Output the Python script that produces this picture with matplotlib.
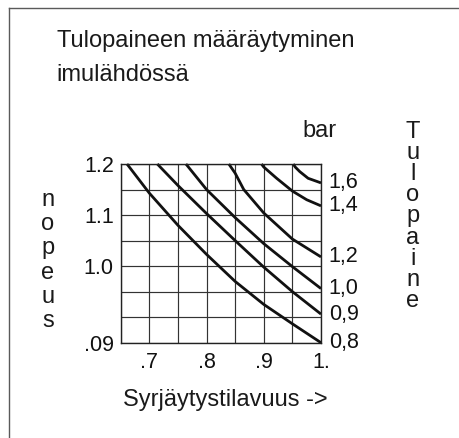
import numpy as np
import matplotlib.pyplot as plt
from matplotlib.lines import Line2D

plt.rcParams['font.family'] = ['Liberation Sans', 'DejaVu Sans']

W, H = 459, 438

# Curves of inlet pressure (bar)
# x = displacement (Syrjaytystilavuus), y = speed (nopeus)
pressures = ['0,8', '0,9', '1,0', '1,2', '1,4', '1,6']

x_08 = [0.661, 0.70, 0.75, 0.80, 0.85, 0.90, 0.95, 1.0]
y_08 = [1.200, 1.143, 1.080, 1.023, 0.970, 0.925, 0.887, 0.850]

x_09 = [0.714, 0.75, 0.80, 0.85, 0.90, 0.95, 1.0]
y_09 = [1.200, 1.158, 1.103, 1.050, 0.998, 0.950, 0.906]

x_10 = [0.764, 0.80, 0.85, 0.90, 0.95, 1.0]
y_10 = [1.200, 1.150, 1.095, 1.044, 0.999, 0.956]

x_12 = [0.839, 0.85, 0.865, 0.90, 0.95, 1.0]
y_12 = [1.200, 1.182, 1.150, 1.104, 1.053, 1.018]

x_14 = [0.896, 0.90, 0.9225, 0.95, 0.975, 1.0]
y_14 = [1.200, 1.194, 1.172, 1.147, 1.130, 1.118]

x_16 = [0.9515, 0.955, 0.963, 0.9775, 1.0]
y_16 = [1.200, 1.194, 1.185, 1.172, 1.163]

curves_x = [x_08, x_09, x_10, x_12, x_14, x_16]
curves_y = [y_08, y_09, y_10, y_12, y_14, y_16]

# axis ticks
x_ticks = [0.7, 0.8, 0.9, 1.0]
x_ticklabels = ['.7', '.8', '.9', '1.']
y_ticks = [1.2, 1.1, 1.0, 0.85]
y_ticklabels = ['1.2', '1.1', '1.0', '.09']


def fx(px):
    return px / W


def fy(py):
    return 1 - py / H


fig = plt.figure(figsize=(W / 100, H / 100), dpi=100)

# frame (only top and left edge show in the crop)
frame_col = '#5a5a5a'
fig.add_artist(Line2D([fx(9), fx(9)], [fy(8), 0], color=frame_col, lw=1.0))
fig.add_artist(Line2D([fx(9), 1], [fy(8), fy(8)], color=frame_col, lw=1.0))

ax = fig.add_axes([fx(120.7), fy(342.7), fx(321) - fx(120.7), fy(164) - fy(342.7)])
ax.set_xlim(0.65, 1.0)
ax.set_ylim(0.85, 1.2)

ax.set_xticks(x_ticks)
ax.set_xticklabels(x_ticklabels)
ax.set_yticks(y_ticks)
ax.set_yticklabels(y_ticklabels)
ax.set_xticks(np.arange(0.65, 1.001, 0.05), minor=True)
ax.set_yticks(np.arange(0.85, 1.201, 0.05), minor=True)
ax.tick_params(which='both', length=0, labelsize=15.5, colors='#111111')
ax.tick_params(axis='x', pad=7)
ax.tick_params(axis='y', pad=5)
ax.grid(which='both', color='#333333', lw=0.85)
ax.set_axisbelow(True)
for sp in ax.spines.values():
    sp.set_color('#222222')
    sp.set_linewidth(1.0)

for xs, ys, lab in zip(curves_x, curves_y, pressures):
    ax.plot(xs, ys, color='#111111', lw=2.0, solid_capstyle='butt',
            solid_joinstyle='round', clip_on=False)
    ax.annotate(lab, (1.0, ys[-1]), xytext=(5.5, 0), textcoords='offset points',
                ha='left', va='center', fontsize=15.5, color='#111111',
                annotation_clip=False)

big = 17
txt_col = '#1a1a1a'

# title
fig.text(fx(56.7), fy(47.5), 'Tulopaineen määräytyminen', fontsize=big,
         color=txt_col, ha='left', va='baseline')
fig.text(fx(56.7), fy(81), 'imulähdössä', fontsize=big,
         color=txt_col, ha='left', va='baseline')

# unit
fig.text(fx(320), fy(137), 'bar', fontsize=big, color=txt_col,
         ha='center', va='baseline')

# x label
fig.text(fx(225), fy(406), 'Syrjäytystilavuus ->', fontsize=big,
         color=txt_col, ha='center', va='baseline')

# vertical labels, one letter per line
for i, ch in enumerate('nopeus'):
    fig.text(fx(48), fy(206 + i * 24.2), ch, fontsize=big, color=txt_col,
             ha='center', va='baseline')

for i, ch in enumerate('Tulopaine'):
    fig.text(fx(413), fy(138 + i * 21.1), ch, fontsize=big, color=txt_col,
             ha='center', va='baseline')

fig.savefig('out.png', dpi=100, facecolor='white')
